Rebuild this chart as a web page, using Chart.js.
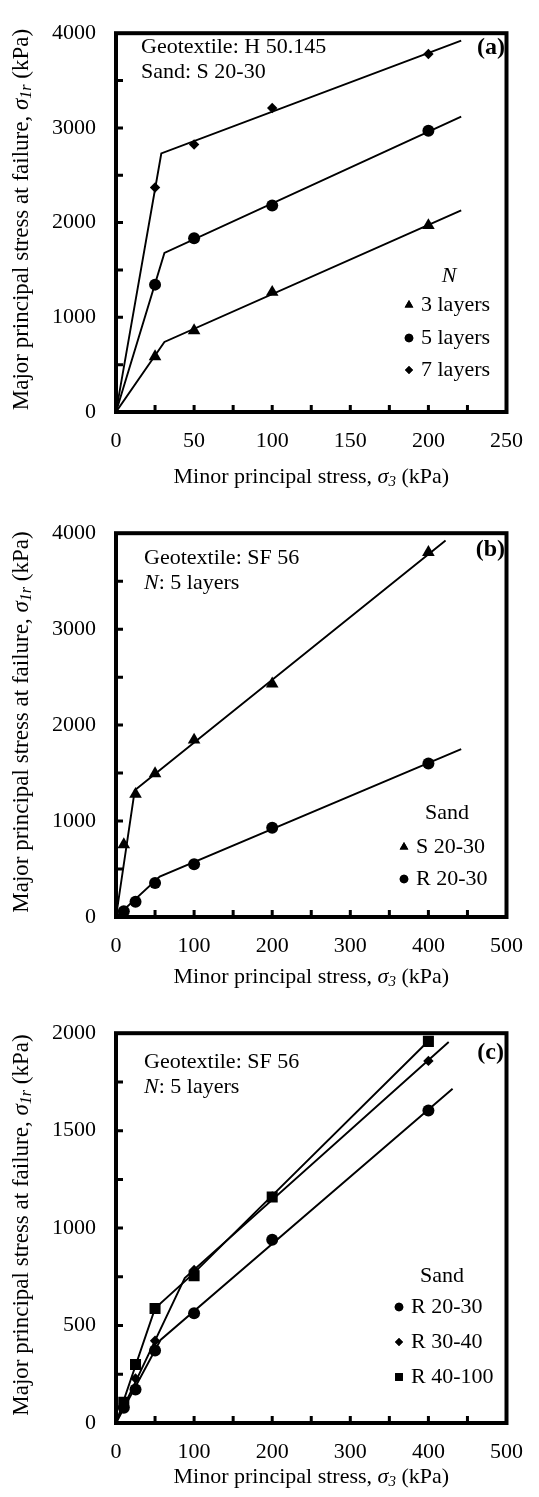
<!DOCTYPE html>
<html>
<head>
<meta charset="utf-8">
<script src="https://cdn.jsdelivr.net/npm/chart.js@4.4.1/dist/chart.umd.min.js"></script>
<style>
    body { margin: 0; background: #fff; }
    .panel { position: absolute; left: 0; width: 539px; height: 500px; }
</style>
</head>
<body>
<div class="panel" style="top:0"><canvas id="chartA"></canvas></div>
<div class="panel" style="top:500px"><canvas id="chartB"></canvas></div>
<div class="panel" style="top:1000px;height:497px"><canvas id="chartC"></canvas></div>
<script>
const SERIF = '"Liberation Serif", "Times New Roman", serif';
Chart.defaults.font.family = SERIF;
Chart.defaults.color = "#000";

/* (a) geotextile H 50.145, sand S 20-30 */
const sigma3A = [25, 50, 100, 200];
const layers3 = [585, 860, 1265, 1970];
const layers5 = [1345, 1835, 2180, 2970];
const layers7 = [2370, 2825, 3210, 3780];
// bilinear envelopes: origin, break point, end
const env3X = [0, 31, 221], env3Y = [0, 740, 2128];
const env5X = [0, 31, 221], env5Y = [0, 1680, 3120];
const env7X = [0, 29, 221], env7Y = [0, 2730, 3922];

/* (b) geotextile SF 56, 5 layers, two sands */
const sigma3B = [10, 25, 50, 100, 200, 400];
const sandS2030 = [755, 1280, 1495, 1845, 2430, 3800];
const sandR2030 = [60, 160, 355, 550, 930, 1600];
const envSX = [0, 24, 422], envSY = [0, 1320, 3925];
const envRX = [0, 56, 442], envRY = [0, 422, 1750];

/* (c) geotextile SF 56, 5 layers, rounded sands */
const sigma3C = [10, 25, 50, 100, 200, 400];
const r2030 = [78, 172, 372, 563, 940, 1603];
const r3040 = [100, 228, 422, 785, 1163, 1858];
const r40100 = [107, 300, 588, 755, 1160, 1958];
const env2030X = [0, 57, 431], env2030Y = [0, 426, 1715];
const env3040X = [0, 88, 426], env3040Y = [0, 744, 1955];
const env40100X = [0, 50, 100, 400], env40100Y = [0, 588, 770, 1960];

function f(size, style) {
    return (style || "") + " " + size + "px " + SERIF;
}

function pts(xs, ys) {
    return xs.map((x, i) => ({ x: x, y: ys[i] }));
}

function marks(label, xs, ys, style, r) {
    return {
        label: label, data: pts(xs, ys), showLine: false,
        pointStyle: style, pointRadius: r, pointHoverRadius: r,
        backgroundColor: "#000", borderColor: "#000", borderWidth: 0
    };
}

function envelope(xs, ys) {
    return {
        label: "", data: pts(xs, ys), showLine: true, pointRadius: 0,
        borderColor: "#000", borderWidth: 1.9, fill: false
    };
}

// text made of pieces in different fonts (italics, subscripts)
function rich(ctx, parts, x, y, align) {
    let w = 0;
    parts.forEach(p => { ctx.font = p[1]; w += ctx.measureText(p[0]).width; });
    let cx = align === "center" ? x - w / 2 : (align === "right" ? x - w : x);
    parts.forEach(p => {
        ctx.font = p[1];
        ctx.fillText(p[0], cx, y + (p[2] || 0));
        cx += ctx.measureText(p[0]).width;
    });
}

const yTitle = [
    ["Major principal stress at failure, ", f(23)],
    ["\u03c3", f(23, "italic")],
    ["1r", f(16, "italic"), 5],
    [" (kPa)", f(23)]
];
const xTitle = [
    ["Minor principal stress, ", f(22)],
    ["\u03c3", f(22, "italic")],
    ["3", f(15, "italic"), 5],
    [" (kPa)", f(22)]
];

function decor(d) {
    return {
        id: "decor",
        afterDraw(chart) {
            const ctx = chart.ctx, a = chart.chartArea;
            const xs = chart.scales.x, ys = chart.scales.y;
            ctx.save();
            ctx.strokeStyle = "#000";
            ctx.fillStyle = "#000";

            // inward tick marks
            ctx.lineWidth = 3;
            ctx.beginPath();
            for (let v = d.xTick; v < xs.max; v += d.xTick) {
                const px = xs.getPixelForValue(v);
                ctx.moveTo(px, a.bottom);
                ctx.lineTo(px, a.bottom - 7);
            }
            for (let v = d.yTick; v < ys.max; v += d.yTick) {
                const py = ys.getPixelForValue(v);
                ctx.moveTo(a.left, py);
                ctx.lineTo(a.left + 7, py);
            }
            ctx.stroke();

            // heavy frame
            ctx.lineWidth = 4;
            ctx.strokeRect(a.left, a.top, a.width, a.height);

            ctx.textBaseline = "middle";
            ctx.textAlign = "left";

            // notes inside the plot
            d.notes.forEach(n => rich(ctx, n.parts, n.x, n.y, "left"));
            ctx.font = f(24, "bold");
            ctx.textAlign = "right";
            ctx.fillText(d.tag, d.tagX, d.tagY);
            ctx.textAlign = "left";

            // legend from the marker datasets
            const lg = d.legend;
            rich(ctx, lg.title, lg.cx, lg.titleY, "center");
            lg.items.forEach((idx, i) => {
                const ds = chart.data.datasets[idx];
                const y = lg.rowY[i];
                Chart.helpers.drawPoint(ctx, {
                    pointStyle: ds.pointStyle, radius: lg.r[i], borderWidth: 0, rotation: 0
                }, lg.markX, y);
                ctx.fill();
                ctx.font = f(22);
                ctx.fillText(ds.label, lg.textX, y);
            });

            // axis titles
            rich(ctx, xTitle, (a.left + a.right) / 2, 477, "center");
            ctx.translate(22, (a.top + a.bottom) / 2 - 3);
            ctx.rotate(-Math.PI / 2);
            rich(ctx, yTitle, 0, 0, "center");
            ctx.restore();
        }
    };
}

function makeChart(id, datasets, ax, d) {
    return new Chart(document.getElementById(id), {
        type: "scatter",
        data: { datasets: datasets },
        options: {
            responsive: true,
            maintainAspectRatio: false,
            animation: false,
            layout: { padding: { top: ax.top, right: 20, left: 0, bottom: 0 } },
            plugins: { legend: { display: false }, tooltip: { enabled: false } },
            scales: {
                x: {
                    type: "linear", min: 0, max: ax.xMax,
                    grid: { display: false, drawTicks: false },
                    border: { display: false },
                    ticks: { stepSize: ax.xStep, padding: 16, font: { size: 22 }, callback: v => String(v) },
                    afterFit: s => { s.height = ax.xH; }
                },
                y: {
                    type: "linear", min: 0, max: ax.yMax,
                    grid: { display: false, drawTicks: false },
                    border: { display: false },
                    ticks: { stepSize: ax.yStep, padding: 20, font: { size: 22 }, callback: v => String(v) },
                    afterFit: s => { s.width = 116; }
                }
            }
        },
        plugins: [decor(d)]
    });
}

makeChart("chartA", [
    envelope(env3X, env3Y),
    envelope(env5X, env5Y),
    envelope(env7X, env7Y),
    marks("3 layers", sigma3A, layers3, "triangle", 7.3),
    marks("5 layers", sigma3A, layers5, "circle", 6),
    marks("7 layers", sigma3A, layers7, "rectRot", 5.2)
], { top: 15, xMax: 250, xStep: 50, yMax: 4000, yStep: 1000, xH: 88 }, {
    xTick: 25, yTick: 500,
    notes: [
        { x: 141, y: 47, parts: [["Geotextile: H 50.145", f(22)]] },
        { x: 141, y: 72, parts: [["Sand: S 20-30", f(22)]] }
    ],
    tag: "(a)", tagX: 505, tagY: 48,
    legend: {
        title: [["N", f(22, "italic")]], cx: 449, titleY: 276,
        items: [3, 4, 5], rowY: [305, 338, 370], r: [5, 4.3, 4],
        markX: 409, textX: 421
    }
});

makeChart("chartB", [
    envelope(envSX, envSY),
    envelope(envRX, envRY),
    marks("S 20-30", sigma3B, sandS2030, "triangle", 7.3),
    marks("R 20-30", sigma3B, sandR2030, "circle", 6)
], { top: 22, xMax: 500, xStep: 100, yMax: 4000, yStep: 1000, xH: 83 }, {
    xTick: 50, yTick: 500,
    notes: [
        { x: 144, y: 58, parts: [["Geotextile: SF 56", f(22)]] },
        { x: 144, y: 83, parts: [["N", f(22, "italic")], [": 5 layers", f(22)]] }
    ],
    tag: "(b)", tagX: 505, tagY: 50,
    legend: {
        title: [["Sand", f(22)]], cx: 447, titleY: 313,
        items: [2, 3], rowY: [347, 379], r: [5, 4.3],
        markX: 404, textX: 416
    }
});

makeChart("chartC", [
    envelope(env2030X, env2030Y),
    envelope(env3040X, env3040Y),
    envelope(env40100X, env40100Y),
    marks("R 20-30", sigma3C, r2030, "circle", 6),
    marks("R 30-40", sigma3C, r3040, "rectRot", 5.2),
    marks("R 40-100", sigma3C, r40100, "rect", 7.8)
], { top: 25, xMax: 500, xStep: 100, yMax: 2000, yStep: 500, xH: 74 }, {
    xTick: 50, yTick: 250,
    notes: [
        { x: 144, y: 62, parts: [["Geotextile: SF 56", f(22)]] },
        { x: 144, y: 87, parts: [["N", f(22, "italic")], [": 5 layers", f(22)]] }
    ],
    tag: "(c)", tagX: 504, tagY: 53,
    legend: {
        title: [["Sand", f(22)]], cx: 442, titleY: 276,
        items: [3, 4, 5], rowY: [307, 342, 377], r: [4.3, 4, 5.5],
        markX: 399, textX: 411
    }
});
</script>
</body>
</html>
